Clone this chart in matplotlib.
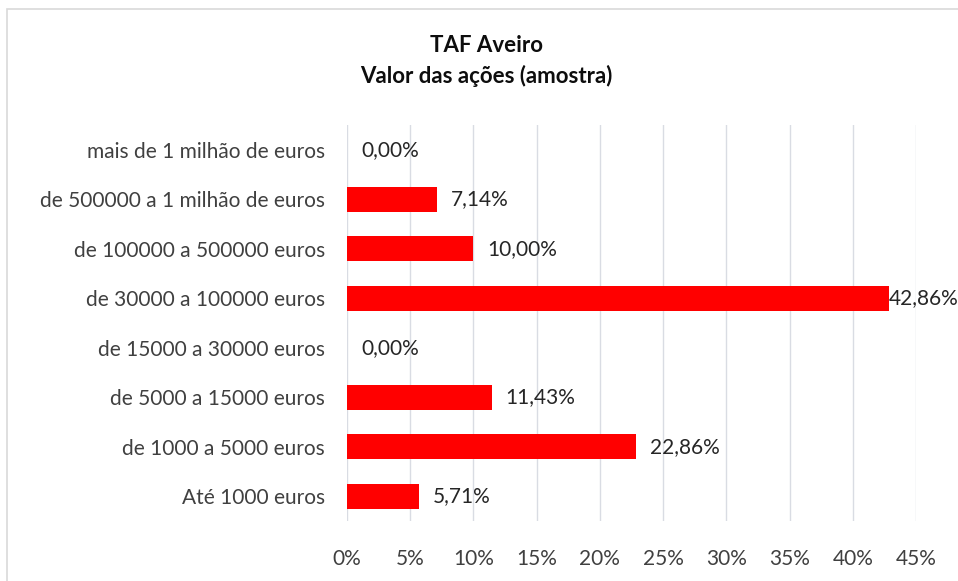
import matplotlib.pyplot as plt
from matplotlib.patches import Rectangle

categorias = ['Até 1000 euros', 'de 1000 a 5000 euros', 'de 5000 a 15000 euros',
              'de 15000 a 30000 euros', 'de 30000 a 100000 euros',
              'de 100000 a 500000 euros', 'de 500000 a 1 milhão de euros',
              'mais de 1 milhão de euros']
percentagens = [5.71, 22.86, 11.43, 0.00, 42.86, 10.00, 7.14, 0.00]
ticks_x = [0, 5, 10, 15, 20, 25, 30, 35, 40, 45]

plt.rcParams['font.family'] = ['Lato', 'DejaVu Sans']

fig = plt.figure(figsize=(9.58, 5.81), dpi=100)
ax = fig.add_axes([347/958, 1 - 521/581, (916-347)/958, (521-125)/581])

y = range(len(categorias))
ax.barh(y, percentagens, height=0.5, color='#ff0000', zorder=3)
for yi, v in zip(y, percentagens):
    # like Excel, the label of the longest bar is pushed against the bar end
    off = 0.0 if v > 40 else 1.1
    ax.text(v + off, yi, f'{v:.2f}%'.replace('.', ','), va='center', ha='left',
            fontsize=15, color='#262626', zorder=4, clip_on=False)

ax.set_xlim(0, 45)
ax.set_ylim(-0.5, len(categorias) - 0.5)
ax.set_xticks(ticks_x)
ax.set_xticklabels([f'{t}%' for t in ticks_x])
ax.set_yticks(list(y))
ax.set_yticklabels(categorias)
ax.tick_params(axis='both', length=0, labelsize=15, colors='#404040')
ax.tick_params(axis='x', pad=20)
ax.tick_params(axis='y', pad=16)
ax.grid(axis='x', color='#d9dce3', linewidth=1, zorder=0)
for s in ax.spines.values():
    s.set_visible(False)

fig.text(0.508, 1 - 45/581, 'TAF Aveiro', ha='center', va='center',
         fontsize=16, fontweight='bold', color='#0d0d0d')
fig.text(0.508, 1 - 76/581, 'Valor das ações (amostra)', ha='center', va='center',
         fontsize=16, fontweight='bold', color='#0d0d0d')

fig.patches.append(Rectangle((7/958, -0.1), 1.2, 1 - 9/581 + 0.1, transform=fig.transFigure,
                             fill=False, edgecolor='#d9d9d9', linewidth=1.2))

fig.savefig('out.png', dpi=100)
